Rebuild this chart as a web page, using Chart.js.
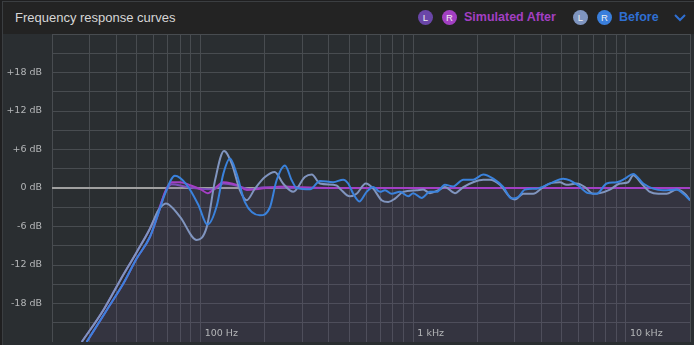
<!DOCTYPE html>
<html>
<head>
<meta charset="utf-8">
<script src="https://cdn.jsdelivr.net/npm/chart.js@4.4.1/dist/chart.umd.min.js"></script>
<style>
  html, body { margin: 0; padding: 0; background: #1f1f20; }
  #frame {
    position: absolute; left: 2px; top: 1px; width: 692px; height: 344px;
    background: #2a2e31; border-left: 1px solid #3b3e41; border-top: 1px solid #3b3e41;
    box-sizing: border-box; overflow: hidden;
  }
  #header {
    position: absolute; left: 0; top: 0; width: 100%; height: 32px; background: #232323;
    font-family: "Liberation Sans", Arial, sans-serif;
  }
  #title { position: absolute; left: 12px; top: 8px; font-size: 13px; color: #d6d6d6; }
  .dot {
    position: absolute; top: 8px; width: 15px; height: 15px; border-radius: 50%;
    color: #eee; font-size: 9.5px; line-height: 15px; text-align: center;
  }
  .lbl { position: absolute; top: 8px; font-size: 12.5px; font-weight: bold; }
  #chev { position: absolute; left: 671px; top: 12px; }
  #plot { position: absolute; left: 0; top: 34px; width: 694px; height: 308px; }
</style>
</head>
<body>
<div id="frame">
  <div id="header">
    <div id="title">Frequency response curves</div>
    <div class="dot" style="left:415px;background:#6a46a8;">L</div>
    <div class="dot" style="left:439px;background:#a23fc2;">R</div>
    <div class="lbl" style="left:461px;color:#a23fc2;">Simulated After</div>
    <div class="dot" style="left:570px;background:#7f95c0;">L</div>
    <div class="dot" style="left:594px;background:#3a7fdc;">R</div>
    <div class="lbl" style="left:616px;color:#2f6fd2;">Before</div>
    <svg id="chev" width="12" height="8"><polyline points="1,1 6,6 11,1" fill="none" stroke="#2f6fd2" stroke-width="2"/></svg>
  </div>
</div>
<canvas id="plot" width="694" height="308"></canvas>
<script>
// grid + labels
const gridFreqs = [20, 30, 40, 50, 60, 70, 80, 90, 100, 200, 300, 400, 500, 600, 700, 800, 900,
  1000, 2000, 3000, 4000, 5000, 6000, 7000, 8000, 9000, 10000, 20000];
const xTickValues = [100, 1000, 10000];
const xTickLabels = ['100 Hz', '1 kHz', '10 kHz'];
const yLabelValues = [18, 12, 6, 0, -6, -12, -18];

// Before R (blue)
const beforeRFreq = [29.1, 36.2, 43.3, 50, 57.8, 63.2, 68, 75.7, 86, 97.5, 107.6, 119, 127.8, 137.4,
  147.7, 161.5, 190, 211.8, 227.6, 249, 268, 283, 327, 364, 420, 468, 494, 522, 557, 603, 648, 697,
  736, 791, 865, 946, 999, 1094, 1197, 1288, 1408, 1540, 1718, 1912, 2132, 2376, 2648, 2900, 3114,
  3348, 3800, 4388, 5068, 5450, 5964, 6644, 7278, 8110, 9036, 9886, 10816, 12052, 13430, 14960,
  17300, 18580, 20000];
const beforeRdB = [-24, -19, -14.9, -11, -7.6, -4.0, -0.9, 1.9, 0.5, -2.6, -5.7, -2.8, 2.2, 4.6,
  2.2, -2.2, -4.25, -3, 1.2, 3.5, 1.2, 0, -0.2, 1.1, 0.9, 1.3, 0.7, -0.9, -2.1, -0.6, 0.15, -0.6,
  -0.35, -0.9, -0.6, -1.3, -0.8, -1.55, -0.6, -0.6, 0.5, 0.25, 1.3, 1.3, 2.1, 1.45, 0.15, -1.65, -1.4,
  -0.25, -0.1, 0.7, 1.45, 1.2, 0.4, -0.8, -0.9, 0.7, 0.9, 1.45, 2.2, 0.7, -0.1, -0.35,
  -0.25, -0.9, -1.9];

// Before L (grey blue)
const beforeLFreq = [27.6, 34.9, 41.8, 50, 57.8, 63.2, 68.7, 80, 95.8, 106.8, 116.9, 128.8, 140, 153,
  164.6, 180, 200.6, 223, 244, 272.6, 309, 333, 364, 436, 452, 503, 541, 598, 648, 709, 762, 820,
  897, 1037, 1113, 1197, 1310, 1408, 1570, 1718, 1912, 2132, 2292, 2554, 2846, 3004, 3288, 3664,
  4080, 4472, 4892, 5260, 5860, 6412, 7016, 7540, 8400, 9360, 10240, 10816, 11840, 12956, 14176,
  15520, 17300, 18920, 20000];
const beforeLdB = [-24, -19, -14.4, -10, -6.3, -3.5, -2.4, -4.5, -8.1, -6.1, 1.2, 5.75, 3.8, -0.35,
  -1.9, -0.1, 1.7, 2.5, 0.7, -0.6, 1.7, 2.1, 0.7, 0.4, -0.1, -1.3, -0.9, 0.7, -0.1, -1.9, -2.2, -1.65,
  -0.6, -0.35, -0.25, -0.8, -0.35, 0.15, -0.8, 0.15, 0.9, 1.3, 1.3, 0.5, -1.4, -1.8, -0.9, -0.9,
  0.15, 0.8, 0.9, 0.5, 0.7, 0.15, -0.9, -0.8, -0.25, 0.7, 0.9, 2.0, 0.7, -0.6, -0.9,
  -0.9, -0.25, -0.9, -1.9];

// Simulated After R (magenta)
const afterRFreq = [29.1, 36.2, 43.3, 50, 57.8, 63.2, 68, 73, 80, 90, 100, 108, 118, 128, 140, 150,
  165, 190, 250, 300, 400, 20000];
const afterRdB = [-24, -19, -14.9, -11, -7.6, -4.0, -0.6, 0.9, 0.9, 0.4, -0.2, -0.8, 0.1, 0.9, 0.7,
  0.4, -0.3, -0.1, 0.25, 0.1, 0, 0];

// Simulated After L (purple)
const afterLFreq = [27.6, 34.9, 41.8, 50, 57.8, 63.2, 68, 73, 85, 100, 115, 128, 150, 170, 200,
  300, 20000];
const afterLdB = [-24, -19, -14.4, -10, -6.3, -3.5, -0.8, 0.6, 0.2, -0.1, -0.2, 0.7, 0.3, -0.2, 0.1,
  0, 0];

const pts = (fs, vs) => fs.map((f, i) => ({ x: f, y: vs[i] }));

const line = (label, data, color, order, extra = {}) => ({
  label, data, borderColor: color, borderWidth: 2, pointRadius: 0,
  cubicInterpolationMode: 'monotone', fill: false, order, ...extra,
});

const xLabels = {
  id: 'xLabels',
  afterDraw(chart) {
    const { ctx, scales: { x }, chartArea } = chart;
    ctx.save();
    ctx.font = '9.5px "DejaVu Sans"';
    ctx.fillStyle = '#b4b6b8';
    ctx.textBaseline = 'middle';
    xTickValues.forEach((v, i) => {
      ctx.fillText(xTickLabels[i], x.getPixelForValue(v) + 4, chartArea.bottom - 8);
    });
    ctx.restore();
  },
};

new Chart(document.getElementById('plot'), {
  type: 'line',
  data: {
    datasets: [
      line('Before R', pts(beforeRFreq, beforeRdB), '#3a82dc', 1),
      line('Before L', pts(beforeLFreq, beforeLdB), '#8095bf', 2),
      line('Simulated After R', pts(afterRFreq, afterRdB), '#a33fc4', 3, {
        fill: 'start', backgroundColor: 'rgba(120,90,170,0.13)',
      }),
      line('Simulated After L', pts(afterLFreq, afterLdB), '#7a4cba', 4),
    ],
  },
  options: {
    responsive: false,
    animation: false,
    layout: { autoPadding: false, padding: { left: 0, right: 4, top: 0, bottom: 0 } },
    plugins: { legend: { display: false }, tooltip: { enabled: false } },
    scales: {
      x: {
        type: 'logarithmic',
        min: 20,
        max: 20000,
        afterBuildTicks: (s) => { s.ticks = gridFreqs.map((v) => ({ value: v })); },
        afterFit: (s) => { s.height = 0; s.paddingLeft = 0; s.paddingRight = 0; },
        ticks: { display: false },
        grid: { color: '#484c50', drawTicks: false },
        border: { display: false },
      },
      y: {
        min: -24,
        max: 24,
        afterFit: (s) => { s.width = 52; s.paddingTop = 0; s.paddingBottom = 0; },
        ticks: {
          stepSize: 3,
          padding: 10,
          color: '#b4b6b8',
          font: { family: 'DejaVu Sans', size: 9.5 },
          callback: (v) => (yLabelValues.includes(v) ? (v > 0 ? '+' : '') + v + ' dB' : ''),
        },
        grid: {
          drawTicks: false,
          color: (c) => (c.tick && c.tick.value === 0 ? '#a0a0a0' : '#484c50'),
          lineWidth: (c) => (c.tick && c.tick.value === 0 ? 2 : 1),
        },
        border: { display: false },
      },
    },
  },
  plugins: [xLabels],
});
</script>
</body>
</html>
